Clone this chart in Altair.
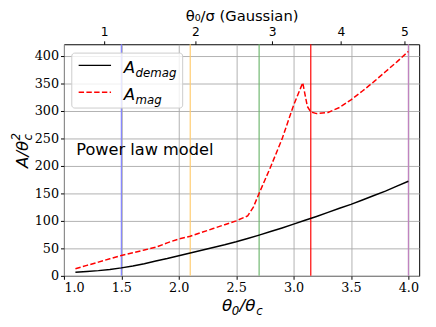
import altair as alt
import pandas as pd

# ---------------- data ----------------
theta_demag = [1.1, 1.2, 1.3, 1.4, 1.5, 1.6, 1.7, 1.8, 1.9, 2.0, 2.1, 2.2, 2.3, 2.4, 2.5,
               2.6, 2.7, 2.8, 2.9, 3.0, 3.1, 3.2, 3.3, 3.4, 3.5, 3.6, 3.7, 3.8, 3.9, 4.0]
a_demag = [6.5, 8, 9.5, 11.5, 14.5, 18, 22, 27, 31.5, 36.5, 41.5, 46.5, 51.5, 56.5, 62,
           68, 74, 80.5, 87, 94, 101, 108, 115.5, 123, 130, 138, 146, 154, 163, 172]

theta_mag = [1.1, 1.2, 1.3, 1.4, 1.5, 1.6, 1.7, 1.8, 1.9, 2.0, 2.1, 2.2, 2.3, 2.4, 2.5,
             2.6, 2.65, 2.7, 2.8, 2.9, 3.0, 3.08, 3.12, 3.15, 3.2, 3.3, 3.4, 3.5, 3.6,
             3.7, 3.8, 3.9, 4.0]
a_mag = [13, 19, 25, 31, 37, 42, 47, 52, 60, 67, 72, 79, 86, 93, 100,
         109, 125, 150, 198, 249, 310, 351, 308, 298, 295, 297, 306, 320, 336,
         353, 371, 389, 408]

vline_pos = [1.5, 2.1, 2.7, 3.15, 4.0]
vline_colors = ["#8080ff", "#ffcc70", "#70b870", "#ff0000", "#c080c0"]

x_ticks = [1.0, 1.5, 2.0, 2.5, 3.0, 3.5, 4.0]
y_ticks = [0, 50, 100, 150, 200, 250, 300, 350, 400]

gauss_pos = [1.350, 2.145, 2.814, 3.413, 3.966]
gauss_labels = ["1", "2", "3", "4", "5"]

# ---------------- layout ----------------
W, H = 362, 236
xscale = alt.Scale(domain=[1.0, 4.094], nice=False, zero=False)
yscale = alt.Scale(domain=[0, 421], nice=False, zero=True)
GRID = "#a8a8a8"
SERIF = "DejaVu Serif"
SANS = "DejaVu Sans"

df_demag = pd.DataFrame({"t": theta_demag, "A": a_demag})
df_mag = pd.DataFrame({"t": theta_mag, "A": a_mag})
df_v = pd.DataFrame({"t": vline_pos, "c": vline_colors})
df_g = pd.DataFrame({"t": gauss_pos})
one = pd.DataFrame({"k": [0]})

x_axis = alt.Axis(orient="bottom", values=x_ticks, format=".1f", grid=True,
                  gridColor=GRID, gridWidth=0.9, tickSize=3.5, tickColor="black",
                  domain=False, labelFont=SERIF, labelFontSize=13, labelColor="black",
                  labelPadding=2, title=None)
y_axis = alt.Axis(orient="left", values=y_ticks, grid=True, gridColor=GRID,
                  gridWidth=0.9, tickSize=3.5, tickColor="black", domain=False,
                  labelFont=SERIF, labelFontSize=13, labelColor="black",
                  labelPadding=2, title=None)

lab_expr = "[" + ",".join("'%s'" % s for s in gauss_labels) + "][indexof([" + \
    ",".join(str(v) for v in gauss_pos) + "], datum.value)]"
top_axis = alt.Axis(orient="top", values=gauss_pos, labelExpr=lab_expr, grid=False,
                    tickSize=3.5, tickColor="black", domain=False, labelFont=SANS,
                    labelFontSize=12.5, labelColor="black", labelPadding=2,
                    title="θ₀/σ (Gaussian)", titleFont=SANS, titleFontSize=15,
                    titleFontWeight="normal", titleColor="black", titlePadding=3)

vlines = alt.Chart(df_v).mark_rule(strokeWidth=1.2).encode(
    x=alt.X("t:Q", scale=xscale, axis=None),
    color=alt.Color("c:N", scale=None),
)
demag = alt.Chart(df_demag).mark_line(color="black", strokeWidth=1.5).encode(
    x=alt.X("t:Q", scale=xscale, axis=x_axis),
    y=alt.Y("A:Q", scale=yscale, axis=y_axis),
)
mag = alt.Chart(df_mag).mark_line(color="red", strokeWidth=1.5,
                                  strokeDash=[5.5, 2.4]).encode(
    x=alt.X("t:Q", scale=xscale, axis=None),
    y=alt.Y("A:Q", scale=yscale, axis=y_axis),
)
top = alt.Chart(df_g).mark_rule(opacity=0).encode(
    x=alt.X("t:Q", scale=xscale, axis=top_axis),
)

# ---------------- legend & annotations (pixel placed) ----------------
leg_box = alt.Chart(one).mark_rect(fill="white", fillOpacity=0.8, stroke="#cccccc",
                                   strokeWidth=1, cornerRadius=3).encode(
    x=alt.value(8), x2=alt.value(121), y=alt.value(9), y2=alt.value(65))
leg_l1 = alt.Chart(one).mark_rule(color="black", strokeWidth=1.5).encode(
    x=alt.value(15), x2=alt.value(48), y=alt.value(21.5))
leg_l2 = alt.Chart(one).mark_rule(color="red", strokeWidth=1.5,
                                  strokeDash=[5.5, 2.4]).encode(
    x=alt.value(15), x2=alt.value(48), y=alt.value(49))


def txt(s, x, y, size, style="normal", angle=0, font=SANS, align="left"):
    return alt.Chart(one).mark_text(text=s, font=font, fontSize=size, fontStyle=style,
                                    align=align, baseline="alphabetic", angle=angle,
                                    color="black").encode(
        x=alt.value(x), y=alt.value(y))


annots = [
    txt("A", 61, 29.5, 17, "italic"),
    txt("demag", 73, 33.5, 12, "italic"),
    txt("A", 61, 56.5, 17, "italic"),
    txt("mag", 73, 60.5, 12, "italic"),
    txt("Power law model", 12.5, 113, 16.5),
    # bottom axis title  θ0/θc
    txt("θ", 161, 272, 17, "italic"),
    txt("0", 171, 275.5, 12, "italic"),
    txt("/θ", 179, 272, 17, "italic"),
    txt("c", 196, 275.5, 12, "italic"),
    # left axis title  A/θc^2 (rotated)
    txt("A/θ", -37, 126, 17, "italic", angle=270),
    txt("2", -45, 98, 12, "italic", angle=270),
    txt("c", -33, 98, 12, "italic", angle=270),
]

chart = alt.layer(vlines, demag, mag, top, leg_box, leg_l1, leg_l2, *annots).resolve_axis(
    x="independent"
).properties(
    width=W, height=H,
    autosize=alt.AutoSizeParams(type="none"),
    padding={"left": 57, "top": 34, "right": 9, "bottom": 41},
).configure_view(stroke="black", strokeWidth=1)

chart.save("out.html", embed_options={"renderer": "svg", "actions": False})
